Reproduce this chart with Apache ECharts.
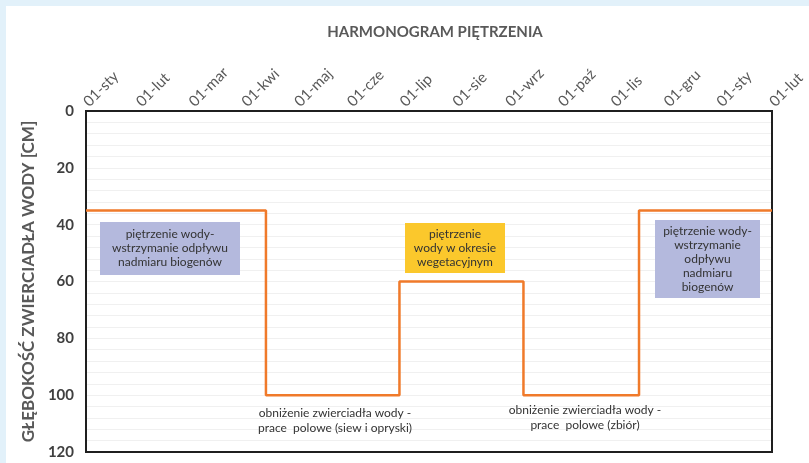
<!DOCTYPE html>
<html>
<head>
<meta charset="utf-8">
<script src="https://cdn.jsdelivr.net/npm/echarts@6/dist/echarts.min.js"></script>
<style>
html,body{margin:0;padding:0;background:#e2f1fa;}
#panel{position:absolute;left:6px;top:6px;width:803px;height:457px;background:#fff;}
#c{position:absolute;left:0;top:0;width:809px;height:463px;}
</style>
</head>
<body>
<div id="panel"></div>
<div id="c"></div>
<script>
// Month tick labels (x axis, one per month start)
const monthLabels = ['01-sty','01-lut','01-mar','01-kwi','01-maj','01-cze','01-lip','01-sie','01-wrz','01-paź','01-lis','01-gru','01-sty','01-lut'];
// Moments (in months from 01-sty) where water depth level is set
const changeMonths = [0, 3.41, 5.94, 8.29, 10.48, 13];
// Water table depth [cm] from each moment onward
const depths = [35, 100, 60, 100, 35, 35];
const yTicks = [0, 20, 40, 60, 80, 100, 120];

const X_MAX = monthLabels.length - 1;
const Y_MAX = yTicks[yTicks.length - 1];
const font = 'Lato, "Open Sans", sans-serif';
const lineData = changeMonths.map((m, i) => [m, depths[i]]);

function box(x, y, w, h, fill, text) {
  return {
    type: 'group', x: x, y: y, z: 100,
    children: [
      {type: 'rect', z: 100, shape: {x: 0, y: 0, width: w, height: h}, style: {fill: fill}},
      {type: 'text', z: 101, x: w / 2, y: h / 2, style: {
        text: text, fill: '#333', font: '12px ' + font, align: 'center', verticalAlign: 'middle', lineHeight: 14
      }}
    ]
  };
}
function label(x, y, text) {
  return {type: 'text', z: 100, x: x, y: y, style: {
    text: text, fill: '#333', font: '12px ' + font, align: 'center', verticalAlign: 'top', lineHeight: 15
  }};
}
const lineStyle = {color: '#1f1f1f', width: 2};
const hidden = {show: false};

const chart = echarts.init(document.getElementById('c'));
chart.setOption({
  backgroundColor: 'transparent',
  animation: false,
  title: {
    text: 'HARMONOGRAM PIĘTRZENIA', left: 430, top: 20, textAlign: 'center',
    textStyle: {fontFamily: font, fontSize: 15, fontWeight: 'bold', color: '#595959'}
  },
  grid: {left: 86, top: 111, width: 686, height: 341, show: true, borderWidth: 0, backgroundColor: '#fff'},
  xAxis: {
    type: 'value', position: 'top', min: 0, max: X_MAX, interval: 1,
    axisLine: {show: true, lineStyle: lineStyle}, axisTick: hidden, splitLine: hidden,
    axisLabel: {
      rotate: 45, margin: 7, color: '#595959', fontFamily: font, fontSize: 15,
      formatter: v => monthLabels[Math.round(v)]
    }
  },
  yAxis: {
    type: 'value', inverse: true, min: 0, max: Y_MAX, interval: 20, position: 'left',
    name: 'GŁĘBOKOŚĆ ZWIERCIADŁA WODY [CM]', nameLocation: 'middle', nameGap: 48, nameRotate: 90,
    nameTextStyle: {fontFamily: font, fontSize: 17, fontWeight: 'bold', color: '#595959'},
    axisLine: {show: true, lineStyle: lineStyle}, axisTick: hidden,
    axisLabel: {color: '#404040', fontFamily: font, fontSize: 15, fontWeight: 'bold', margin: 12,
      formatter: v => yTicks.includes(v) ? String(v) : ''},
    splitLine: {show: true, lineStyle: {color: '#f0f0f0', width: 1}},
    minorTick: {show: false, splitNumber: 5},
    minorSplitLine: {show: true, lineStyle: {color: '#f0f0f0', width: 1}}
  },
  series: [{
    type: 'line', step: 'end', data: lineData, symbol: 'none', z: 5,
    lineStyle: {color: '#f07a2a', width: 2.5},
    markArea: {
      silent: true,
      itemStyle: {color: 'rgba(0,0,0,0)', borderColor: '#1f1f1f', borderWidth: 2},
      data: [[{coord: [0, 0]}, {coord: [X_MAX, Y_MAX]}]]
    }
  }],
  graphic: [
    box(100, 222, 140, 53, '#b4b9dd', 'piętrzenie wody-\nwstrzymanie odpływu\nnadmiaru biogenów'),
    box(405, 223, 100, 50, '#fbc82c', 'piętrzenie\nwody w okresie\nwegetacyjnym'),
    box(655, 220, 105, 78, '#b4b9dd', 'piętrzenie wody-\nwstrzymanie\nodpływu\nnadmiaru\nbiogenów'),
    label(335, 406, 'obniżenie zwierciadła wody -\nprace  polowe (siew i opryski)'),
    label(585, 403, 'obniżenie zwierciadła wody -\nprace  polowe (zbiór)')
  ]
});
</script>
</body>
</html>
